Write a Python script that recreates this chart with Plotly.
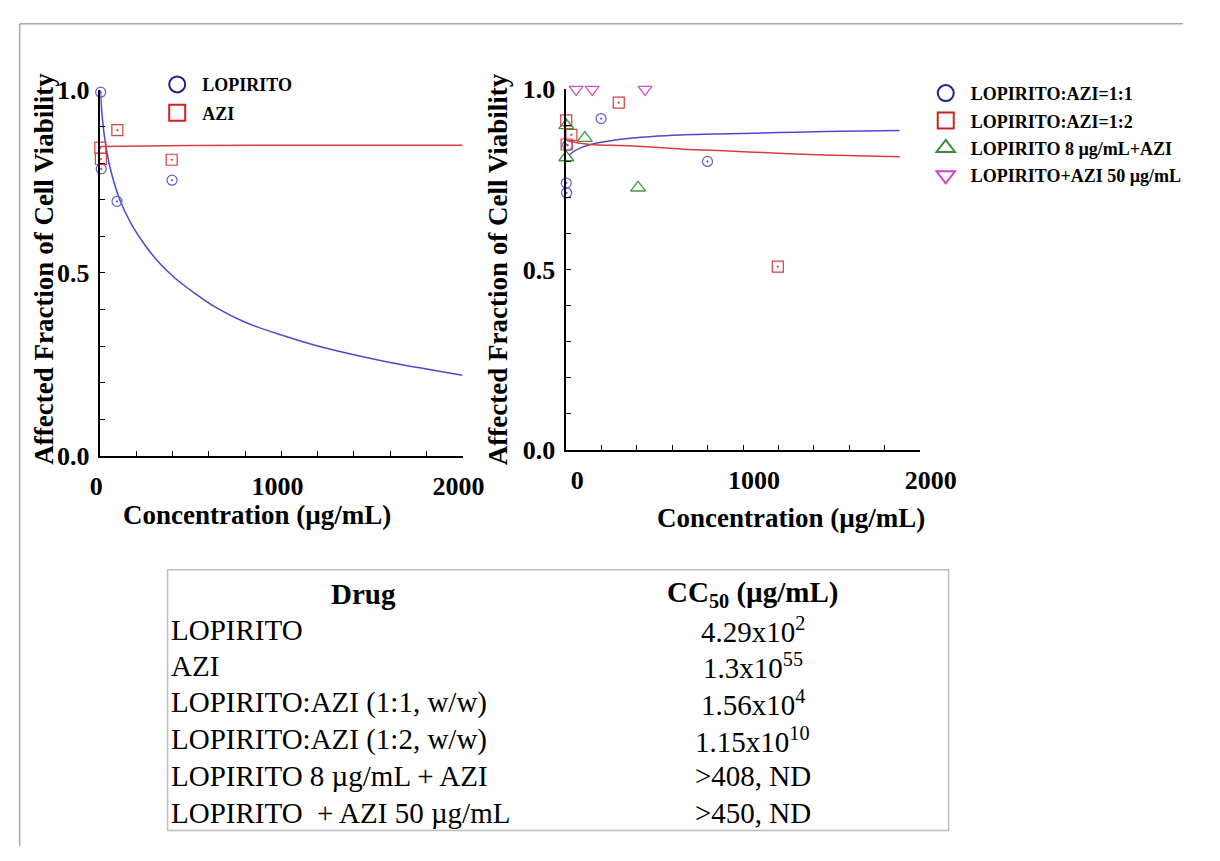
import plotly.graph_objects as go

W, H = 1220, 861
SERIF = "Liberation Serif, Times New Roman, serif"

# ---------------- Left panel data ----------------
lop_x = [0, 2, 5, 92, 396]
lop_y = [1.01, 0.995, 0.785, 0.696, 0.754]
azi_x = [0, 3, 94, 394]
azi_y = [0.843, 0.812, 0.891, 0.81]
lop_fit_x = [0, 10, 25, 55, 108, 170, 250, 330, 410, 520, 640, 800, 1000, 1200, 1400, 1600, 1800, 2000]
lop_fit_y = [1.0, 0.93, 0.865, 0.786, 0.70, 0.635, 0.574, 0.525, 0.487, 0.445, 0.405, 0.365, 0.33, 0.30, 0.276, 0.255, 0.237, 0.22]
azi_fit_x = [0, 100, 500, 1000, 1500, 2000]
azi_fit_y = [0.846, 0.847, 0.849, 0.850, 0.850, 0.850]

# ---------------- Right panel data ----------------
c11_x = [0, 2, 8, 197, 799]
c11_y = [0.74, 0.713, 0.845, 0.919, 0.80]
c12_x = [0, 29, 2, 297, 1197]
c12_y = [0.914, 0.874, 0.847, 0.963, 0.508]
l8_x = [0, 105, 0, 406]
l8_y = [0.90, 0.865, 0.811, 0.727]
a50_x = [56, 147, 446]
a50_y = [1.0, 1.0, 1.0]
fit11_x = [15, 60, 138, 373, 663, 917, 1200, 1460, 1886]
fit11_y = [0.818, 0.833, 0.847, 0.865, 0.874, 0.877, 0.880, 0.883, 0.886]
fit12_x = [5, 60, 138, 373, 663, 917, 1200, 1460, 1886]
fit12_y = [0.858, 0.852, 0.847, 0.843, 0.834, 0.829, 0.823, 0.818, 0.813]

# ---------------- Table data ----------------
table_header = ["<b>Drug</b>", "<b>CC<sub>50</sub> (µg/mL)</b>"]
drugs = ["LOPIRITO", "AZI", "LOPIRITO:AZI (1:1, w/w)", "LOPIRITO:AZI (1:2, w/w)",
         "LOPIRITO 8 µg/mL + AZI", "LOPIRITO\u00a0 + AZI 50 µg/mL"]
cc50 = ["4.29x10<sup>2</sup>", "1.3x10<sup>55</sup>", "1.56x10<sup>4</sup>",
        "1.15x10<sup>10</sup>", "&gt;408, ND", "&gt;450, ND"]

BLUE = "#4a4ad0"
BLUE_M = "#5c5cd4"
RED = "#d83c3c"
GREEN = "#3c9a3c"
MAG = "#d050d0"


def px(x):
    return x / W


def py(y):
    return 1 - y / H


fig = go.Figure()

# left panel
fig.add_trace(go.Scatter(x=lop_fit_x, y=lop_fit_y, mode="lines", line=dict(color=BLUE, width=1.5, shape="spline"),
                         showlegend=False, xaxis="x", yaxis="y", cliponaxis=False))
fig.add_trace(go.Scatter(x=azi_fit_x, y=azi_fit_y, mode="lines", line=dict(color=RED, width=1.5),
                         showlegend=False, xaxis="x", yaxis="y", cliponaxis=False))
fig.add_trace(go.Scatter(x=lop_x, y=lop_y, mode="markers",
                         marker=dict(symbol="circle-open-dot", size=10, color=BLUE_M, line=dict(width=1.2, color=BLUE_M)),
                         showlegend=False, xaxis="x", yaxis="y", cliponaxis=False))
fig.add_trace(go.Scatter(x=azi_x, y=azi_y, mode="markers",
                         marker=dict(symbol="square-open-dot", size=11, color=RED, line=dict(width=1.2, color=RED)),
                         showlegend=False, xaxis="x", yaxis="y", cliponaxis=False))

# right panel
fig.add_trace(go.Scatter(x=fit11_x, y=fit11_y, mode="lines", line=dict(color=BLUE, width=1.5, shape="spline"),
                         showlegend=False, xaxis="x2", yaxis="y2", cliponaxis=False))
fig.add_trace(go.Scatter(x=fit12_x, y=fit12_y, mode="lines", line=dict(color=RED, width=1.5, shape="spline"),
                         showlegend=False, xaxis="x2", yaxis="y2", cliponaxis=False))
fig.add_trace(go.Scatter(x=c11_x, y=c11_y, mode="markers",
                         marker=dict(symbol="circle-open-dot", size=10, color=BLUE_M, line=dict(width=1.2, color=BLUE_M)),
                         showlegend=False, xaxis="x2", yaxis="y2", cliponaxis=False))
fig.add_trace(go.Scatter(x=c12_x, y=c12_y, mode="markers",
                         marker=dict(symbol="square-open-dot", size=11, color=RED, line=dict(width=1.2, color=RED)),
                         showlegend=False, xaxis="x2", yaxis="y2", cliponaxis=False))
fig.add_trace(go.Scatter(x=l8_x, y=l8_y, mode="markers",
                         marker=dict(symbol="triangle-up-open", size=13, color=GREEN, line=dict(width=1.3, color=GREEN)),
                         showlegend=False, xaxis="x2", yaxis="y2", cliponaxis=False))
fig.add_trace(go.Scatter(x=a50_x, y=a50_y, mode="markers",
                         marker=dict(symbol="triangle-down-open", size=12, color=MAG, line=dict(width=1.3, color=MAG)),
                         showlegend=False, xaxis="x2", yaxis="y2", cliponaxis=False))

# legend-only entries (bigger symbols, as in the original legends)
leg_left = [("LOPIRITO", "circle-open", "#1c1c9c"), ("AZI", "square-open", "#cc2222")]
leg_right = [("LOPIRITO:AZI=1:1", "circle-open", "#1c1c9c"), ("LOPIRITO:AZI=1:2", "square-open", "#cc2222"),
             ("LOPIRITO 8 µg/mL+AZI", "triangle-up-open", "#3a8a3a"),
             ("LOPIRITO+AZI 50 µg/mL", "triangle-down-open", "#cc44cc")]
for i, (name, sym, col) in enumerate(leg_left):
    fig.add_trace(go.Scatter(x=[None], y=[None], mode="markers", name=name, legend="legend",
                             legendgroup=f"l{i}", xaxis="x", yaxis="y",
                             marker=dict(symbol=sym, size=16, color=col, line=dict(width=2, color=col))))
for i, (name, sym, col) in enumerate(leg_right):
    fig.add_trace(go.Scatter(x=[None], y=[None], mode="markers", name=name, legend="legend2",
                             legendgroup=f"r{i}", xaxis="x2", yaxis="y2",
                             marker=dict(symbol=sym, size=16, color=col, line=dict(width=2, color=col))))

tickfont = dict(family=SERIF, size=26, color="black", weight="bold")
axis_common = dict(showline=True, linecolor="black", linewidth=1.5, ticks="inside", ticklen=5, tickwidth=1.2,
                   tickcolor="black", showgrid=False, zeroline=False, tickfont=tickfont)
minor_x = dict(dtick=200, ticks="inside", ticklen=5, tickwidth=1.2, tickcolor="black", showgrid=False)
minor_y = dict(dtick=0.1, ticks="inside", ticklen=5, tickwidth=1.2, tickcolor="black", showgrid=False)

fig.update_layout(
    width=W, height=H, margin=dict(l=0, r=0, t=0, b=0),
    paper_bgcolor="white", plot_bgcolor="rgba(0,0,0,0)",
    xaxis=dict(domain=[px(93), px(470)], range=[0, 2000], tick0=0, dtick=1000, anchor="y",
               ticklabelstandoff=6, ticklabelshift=-4, minor=minor_x, **axis_common),
    yaxis=dict(domain=[py(457), py(79)], range=[0, 1], tick0=0, dtick=0.5, tickformat=".1f", anchor="x",
               ticklabelstandoff=4, minor=minor_y, **axis_common),
    xaxis2=dict(domain=[px(578), px(946)], range=[0, 2000], tick0=0, dtick=1000, anchor="y2",
                ticklabelstandoff=6, ticklabelshift=11, minor=minor_x, **axis_common),
    yaxis2=dict(domain=[py(451), py(78)], range=[0, 1], tick0=0, dtick=0.5, tickformat=".1f", anchor="x2",
                ticklabelstandoff=4, minor=minor_y, **axis_common),
    legend=dict(x=px(147), y=py(54), xanchor="left", yanchor="top", bgcolor="rgba(0,0,0,0)",
                font=dict(family=SERIF, size=18, color="black", weight="bold"), itemwidth=40,
                tracegroupgap=2),
    legend2=dict(x=px(947), y=py(63), xanchor="left", yanchor="top", bgcolor="rgba(0,0,0,0)",
                 font=dict(family=SERIF, size=18, color="black", weight="bold"), itemwidth=40,
                 tracegroupgap=1),
)

annotations = []
title_font = dict(family=SERIF, size=27, color="black", weight="bold")
annotations.append(dict(text="Affected Fraction of Cell Viability", x=px(34), y=py(264), xref="paper", yref="paper",
                        textangle=-90, showarrow=False, font=title_font, xanchor="center", yanchor="middle"))
annotations.append(dict(text="Affected Fraction of Cell Viability", x=px(507), y=py(264), xref="paper", yref="paper",
                        textangle=-90, showarrow=False, font=title_font, xanchor="center", yanchor="middle"))
annotations.append(dict(text="Concentration (µg/mL)", x=px(256), y=py(518), xref="paper", yref="paper",
                        showarrow=False, font=title_font, xanchor="center", yanchor="middle"))
annotations.append(dict(text="Concentration (µg/mL)", x=px(812), y=py(522), xref="paper", yref="paper",
                        showarrow=False, font=title_font, xanchor="center", yanchor="middle"))

# CC50 table
tab_font = dict(family=SERIF, size=29, color="black")
annotations.append(dict(text=table_header[0], x=px(367), y=py(600), xref="paper", yref="paper", showarrow=False,
                        font=tab_font, xanchor="center", yanchor="middle"))
annotations.append(dict(text=table_header[1], x=px(772), y=py(600), xref="paper", yref="paper", showarrow=False,
                        font=tab_font, xanchor="center", yanchor="middle"))
row_y0, row_dy = 637, 38
for i, (d, v) in enumerate(zip(drugs, cc50)):
    yy = row_y0 + i * row_dy
    annotations.append(dict(text=d, x=px(164), y=py(yy), xref="paper", yref="paper", showarrow=False,
                            font=tab_font, xanchor="left", yanchor="middle"))
    annotations.append(dict(text=v, x=px(772), y=py(yy), xref="paper", yref="paper", showarrow=False,
                            font=tab_font, xanchor="center", yanchor="middle"))

shapes = [
    dict(type="rect", xref="paper", yref="paper", x0=px(163), x1=px(976), y0=py(845), y1=py(575),
         line=dict(color="#bdbdbd", width=1.5)),
    dict(type="line", xref="paper", yref="paper", x0=px(9), x1=1.0, y0=py(10), y1=py(10),
         line=dict(color="#a8a8a8", width=1.5)),
    dict(type="line", xref="paper", yref="paper", x0=px(9), x1=px(9), y0=py(10), y1=0,
         line=dict(color="#a8a8a8", width=1.5)),
]
fig.update_layout(shapes=shapes, annotations=annotations)

fig.write_html("out.html")
